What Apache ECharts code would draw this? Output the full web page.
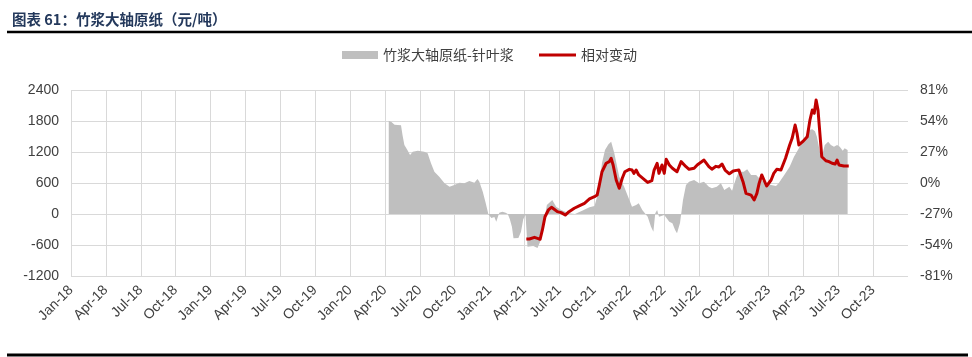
<!DOCTYPE html>
<html>
<head>
<meta charset="utf-8">
<script src="https://cdn.jsdelivr.net/npm/echarts@6/dist/echarts.min.js"></script>
<style>
html,body{margin:0;padding:0;background:#fff;}
#chart{width:972px;height:357px;}
</style>
</head>
<body>
<div id="chart"></div>
<script>
const titleText = '图表 61：竹浆大轴原纸（元/吨）';
const seriesNames = ['竹浆大轴原纸-针叶浆', '相对变动'];
const tickLabels = ['Jan-18','Apr-18','Jul-18','Oct-18','Jan-19','Apr-19','Jul-19','Oct-19',
  'Jan-20','Apr-20','Jul-20','Oct-20','Jan-21','Apr-21','Jul-21','Oct-21',
  'Jan-22','Apr-22','Jul-22','Oct-22','Jan-23','Apr-23','Jul-23','Oct-23'];

// Spread: 竹浆大轴原纸 - 针叶浆 (元/吨)
const spreadDates = ['2020-04-11','2020-04-18','2020-04-26','2020-05-13','2020-05-17','2020-05-22','2020-05-30',
  '2020-06-06','2020-06-13','2020-06-26','2020-07-13','2020-07-22','2020-07-31','2020-08-09','2020-08-22',
  '2020-09-05','2020-09-18','2020-09-30','2020-10-14','2020-10-27','2020-11-09','2020-11-22','2020-11-30',
  '2020-12-05','2020-12-14','2020-12-22','2020-12-29','2021-01-06','2021-01-14','2021-01-19','2021-01-27',
  '2021-02-04','2021-02-12','2021-02-17','2021-02-22','2021-02-27','2021-03-03','2021-03-16','2021-03-23',
  '2021-03-29','2021-04-04','2021-04-09','2021-04-24','2021-05-05','2021-05-12','2021-05-23','2021-05-30',
  '2021-06-13','2021-06-23','2021-07-06','2021-07-27','2021-08-12','2021-08-31','2021-09-19','2021-10-02',
  '2021-10-09','2021-10-14','2021-10-22','2021-10-30','2021-11-08','2021-11-15','2021-11-23','2021-12-06',
  '2021-12-19','2022-01-02','2022-01-09','2022-01-20','2022-01-27','2022-02-05','2022-02-18','2022-02-26',
  '2022-03-04','2022-03-09','2022-03-14','2022-03-19','2022-04-02','2022-04-15','2022-04-23','2022-04-30',
  '2022-05-05','2022-05-13','2022-05-21','2022-05-29','2022-06-06','2022-06-19','2022-07-02','2022-07-15',
  '2022-07-28','2022-08-05','2022-08-18','2022-08-29','2022-09-07','2022-09-20','2022-09-27','2022-10-08',
  '2022-10-15','2022-10-28','2022-11-06','2022-11-16','2022-11-29','2022-12-12','2022-12-25','2023-01-08',
  '2023-01-21','2023-01-28','2023-02-11','2023-02-24','2023-03-07','2023-03-20','2023-04-03','2023-04-16',
  '2023-04-24','2023-05-01','2023-05-06','2023-05-14','2023-05-19','2023-05-27','2023-06-05','2023-06-12',
  '2023-06-20','2023-06-28','2023-07-05','2023-07-13','2023-07-18','2023-07-26'];
const spreadValues = [1806,1781,1729,1716,1529,1335,1239,
  1142,1206,1226,1206,1174,981,819,722,
  593,529,561,606,593,639,606,677,
  626,432,206,-6,-77,-58,-149,25,
  45,25,0,-100,-245,-471,-465,-342,
  -100,-20,-632,-619,-658,-535,-116,174,
  271,142,77,13,0,64,129,155,
  335,528,987,1239,1350,1400,1180,722,
  528,271,142,174,207,77,-52,-245,
  -342,13,77,-52,-19,-149,-180,-310,
  -374,-174,271,561,625,658,593,625,
  528,497,528,593,464,528,450,700,
  819,819,865,755,755,658,593,561,
  542,593,755,916,1110,1271,1465,1626,
  1639,1600,1497,1206,1100,1335,1400,1335,
  1303,1335,1300,1226,1271,1240];

// Relative change (%)
const changeDates = ['2021-04-06','2021-04-14','2021-04-27','2021-05-05','2021-05-12','2021-05-18','2021-05-25',
  '2021-06-03','2021-06-11','2021-06-18','2021-06-26','2021-07-06','2021-07-17','2021-07-27','2021-08-10',
  '2021-08-23','2021-09-06','2021-09-19','2021-10-02','2021-10-09','2021-10-14','2021-10-22','2021-11-02',
  '2021-11-10','2021-11-15','2021-11-20','2021-11-28','2021-12-06','2021-12-14','2021-12-21','2022-01-02',
  '2022-01-09','2022-01-14','2022-01-20','2022-01-27','2022-02-10','2022-02-18','2022-02-28','2022-03-06',
  '2022-03-14','2022-03-19','2022-03-27','2022-04-02','2022-04-07','2022-04-15','2022-04-23','2022-04-28',
  '2022-05-05','2022-05-16','2022-05-21','2022-05-29','2022-06-06','2022-06-19','2022-06-27','2022-07-02',
  '2022-07-15','2022-07-20','2022-07-28','2022-08-05','2022-08-16','2022-08-24','2022-09-01','2022-09-09',
  '2022-09-20','2022-09-30','2022-10-08','2022-10-15','2022-10-26','2022-11-03','2022-11-16','2022-11-24',
  '2022-12-01','2022-12-07','2022-12-14','2022-12-22','2022-12-27','2023-01-08','2023-01-15','2023-01-23',
  '2023-02-03','2023-02-14','2023-02-24','2023-03-02','2023-03-10','2023-03-15','2023-03-20','2023-03-30',
  '2023-04-11','2023-04-18','2023-04-24','2023-04-29','2023-05-04','2023-05-09','2023-05-14','2023-05-19',
  '2023-05-30','2023-06-07','2023-06-15','2023-06-23','2023-06-28','2023-07-03','2023-07-16','2023-07-29'];
const changeValues = [-48.8,-48.8,-47.3,-48.2,-49.0,-40.9,-29.4,
  -23.5,-21.2,-22.9,-24.9,-25.8,-27.9,-25.0,-22.0,
  -20.0,-17.7,-13.9,-11.9,-10.5,-3.2,9.8,17.2,
  18.6,21.5,15.7,2.6,-4.6,4.1,9.8,11.9,
  11.3,8.4,11.3,7.0,3.0,0.5,2.0,11.3,
  17.2,8.4,15.7,8.4,20.6,15.7,12.8,14.0,
  9.8,18.6,18.6,14.2,11.9,12.8,15.7,17.2,
  20.0,20.6,14.2,12.0,14.5,14.0,16.5,11.3,
  8.0,10.5,11.0,11.3,1.1,-9.0,-10.5,-14.8,
  -9.0,-0.3,7.0,1.1,-2.6,2.6,8.4,11.9,
  11.3,21.5,33.1,38.9,50.5,43.3,33.1,36.0,
  40.3,54.9,63.6,60.7,72.3,63.6,43.3,22.9,
  19.4,18.6,17.2,16.5,20.0,15.7,14.8,14.8];

// months since Jan-2018 (value axis position)
function monthIndex(s) {
  const p = s.split('-').map(Number);
  const dim = new Date(p[0], p[1], 0).getDate();
  return (p[0] - 2018) * 12 + (p[1] - 1) + (p[2] - 1) / dim;
}
const zip = (ds, vs) => ds.map((d, i) => [monthIndex(d), vs[i]]);

const FONT = '"Liberation Sans", "Noto Sans CJK SC", sans-serif';
const CJK = '"Noto Sans CJK SC", sans-serif';
const TXT = '#404040';
const GRID = '#d9d9d9';

const chart = echarts.init(document.getElementById('chart'), null, {renderer: 'canvas'});
chart.setOption({
  animation: false,
  backgroundColor: '#fff',
  textStyle: {fontFamily: FONT},
  title: {
    text: titleText, left: 7, top: 7,
    textStyle: {fontSize: 14.5, fontWeight: 'bold', color: '#24395c', fontFamily: CJK}
  },
  graphic: [
    {type: 'line', shape: {x1: 7, y1: 32, x2: 972, y2: 32}, style: {stroke: '#000', lineWidth: 2.5}},
    {type: 'line', shape: {x1: 7, y1: 355, x2: 968, y2: 355}, style: {stroke: '#000', lineWidth: 3}}
  ],
  legend: [
    {
      left: 342, top: 48, padding: 0, itemWidth: 36, itemHeight: 8,
      textStyle: {fontSize: 14, color: TXT, fontFamily: CJK},
      data: [{name: seriesNames[0], icon: 'rect', itemStyle: {color: '#bfbfbf'}}]
    },
    {
      left: 539, top: 48, padding: 0, itemWidth: 37, itemHeight: 3,
      textStyle: {fontSize: 14, color: TXT, fontFamily: CJK},
      data: [{name: seriesNames[1], icon: 'rect', itemStyle: {color: '#c00000'}}]
    }
  ],
  grid: {left: 71, right: 64, top: 90, bottom: 81, containLabel: false},
  xAxis: {
    type: 'value', min: 0, max: 72, interval: 3,
    axisLine: {show: false}, axisTick: {show: false},
    splitLine: {show: true, showMaxLine: false, lineStyle: {color: GRID, width: 1}},
    axisLabel: {
      rotate: 45, margin: 12, fontSize: 14, color: TXT, fontFamily: FONT,
      formatter: v => (v % 3 === 0 && tickLabels[v / 3] !== undefined) ? tickLabels[v / 3] : ''
    }
  },
  yAxis: [
    {
      type: 'value', min: -1200, max: 2400, interval: 600,
      axisLine: {show: false}, axisTick: {show: false},
      splitLine: {show: true, lineStyle: {color: GRID, width: 1}},
      axisLabel: {fontSize: 14, color: TXT, margin: 12, fontFamily: FONT, formatter: v => String(v)}
    },
    {
      type: 'value', min: -81, max: 81, interval: 27, position: 'right',
      axisLine: {show: false}, axisTick: {show: false},
      splitLine: {show: false},
      axisLabel: {fontSize: 14, color: TXT, margin: 12, fontFamily: FONT, formatter: v => v + '%'}
    }
  ],
  series: [
    {
      name: seriesNames[0], type: 'line', yAxisIndex: 0,
      data: zip(spreadDates, spreadValues),
      symbol: 'none', showSymbol: false,
      lineStyle: {width: 0, opacity: 0},
      itemStyle: {color: '#bfbfbf'},
      areaStyle: {color: '#bfbfbf', opacity: 1},
      z: 2
    },
    {
      name: seriesNames[1], type: 'line', yAxisIndex: 1,
      data: zip(changeDates, changeValues),
      symbol: 'none', showSymbol: false,
      lineStyle: {width: 3, color: '#c00000', join: 'round'},
      itemStyle: {color: '#c00000'},
      z: 3
    }
  ]
});
</script>
</body>
</html>
